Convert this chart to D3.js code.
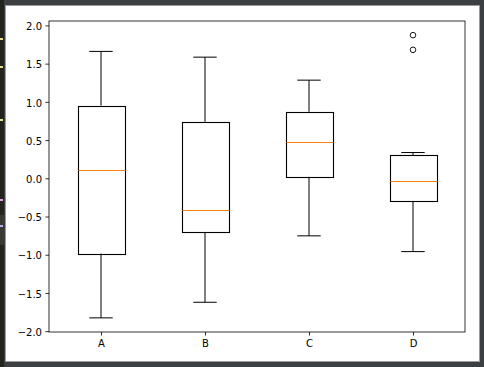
<!DOCTYPE html>
<html>
<head>
<meta charset="utf-8">
<script src="https://cdn.jsdelivr.net/npm/d3@7"></script>
<style>
  html, body { margin: 0; padding: 0; background: #3c3f41; }
  svg { display: block; }
  text { font-family: "DejaVu Sans", sans-serif; }
</style>
</head>
<body>
<svg id="chart" width="484" height="367"></svg>
<script>
// ---- data ----
const categories  = ["A", "B", "C", "D"];
const whiskerHigh = [1.660, 1.585, 1.284, 0.337];
const q3          = [0.952, 0.739, 0.870, 0.302];
const medians     = [0.102, -0.413, 0.477, -0.038];
const q1          = [-0.985, -0.706, 0.019, -0.300];
const whiskerLow  = [-1.826, -1.622, -0.753, -0.959];
const outliers    = [[], [], [], [1.873, 1.681]];
const yTicks      = [-2.0, -1.5, -1.0, -0.5, 0.0, 0.5, 1.0, 1.5, 2.0];

const svg = d3.select("#chart");

// window chrome around the figure
svg.append("rect").attr("x", 0).attr("y", 0).attr("width", 484).attr("height", 367).attr("fill", "#3c3f41");
svg.append("rect").attr("x", 0).attr("y", 0).attr("width", 4).attr("height", 367).attr("fill", "#24241f");
svg.append("rect").attr("x", 0).attr("y", 215).attr("width", 4).attr("height", 30).attr("fill", "#3a3a33");
[[38, "#e8e08a"], [66, "#e8e08a"], [119, "#e8e08a"], [199, "#e6a0e6"], [225, "#b0b0f0"]].forEach(m => {
  svg.append("rect").attr("x", 0).attr("y", m[0]).attr("width", 3).attr("height", 2).attr("fill", m[1]);
});
svg.append("rect").attr("x", 5.5).attr("y", 5.5).attr("width", 474).attr("height", 356)
  .attr("fill", "#ffffff").attr("stroke", "#9a9a9a").attr("stroke-width", 1);

// plot area
const mLeft = 49, mRight = 465, mTop = 21, mBottom = 332;
const all = [].concat(whiskerHigh, whiskerLow, ...outliers);
const lo = d3.min(all), hi = d3.max(all), pad = (hi - lo) * 0.05;

const x = d3.scalePoint().domain(categories).range([mLeft, mRight]).padding(0.5);
const y = d3.scaleLinear().domain([lo - pad, hi + pad]).range([mBottom, mTop]);
const boxW = x.step() * 0.45;
const capW = boxW / 2;

const g = svg.append("g");

// axes
const yAxis = d3.axisLeft(y).tickValues(yTicks).tickSize(3.6).tickPadding(3.4)
  .tickFormat(d => d3.format(".1f")(d).replace("-", "\u2212"));
const xAxis = d3.axisBottom(x).tickSize(3.6).tickPadding(4.4);

const ya = g.append("g").attr("transform", `translate(${mLeft},0)`).call(yAxis);
const xa = g.append("g").attr("transform", `translate(0,${mBottom})`).call(xAxis);
[ya, xa].forEach(a => {
  a.select(".domain").remove();
  a.selectAll(".tick line").attr("stroke", "#000").attr("stroke-width", 0.8);
  a.selectAll(".tick text").attr("fill", "#000").attr("font-size", "10px");
});
ya.selectAll(".tick text").attr("dy", "0.42em");

// frame
g.append("rect").attr("x", mLeft).attr("y", mTop).attr("width", mRight - mLeft).attr("height", mBottom - mTop)
  .attr("fill", "none").attr("stroke", "#000").attr("stroke-width", 0.8);

const idx = d3.range(categories.length);
const cx = i => Math.round(x(categories[i]));

// whiskers
g.selectAll(".wh-hi").data(idx).join("line")
  .attr("x1", cx).attr("x2", cx)
  .attr("y1", i => y(q3[i])).attr("y2", i => y(whiskerHigh[i]))
  .attr("stroke", "#000").attr("stroke-width", 1);
g.selectAll(".wh-lo").data(idx).join("line")
  .attr("x1", cx).attr("x2", cx)
  .attr("y1", i => y(q1[i])).attr("y2", i => y(whiskerLow[i]))
  .attr("stroke", "#000").attr("stroke-width", 1);
// caps
g.selectAll(".cap-hi").data(idx).join("line")
  .attr("x1", i => cx(i) - capW / 2).attr("x2", i => cx(i) + capW / 2)
  .attr("y1", i => y(whiskerHigh[i])).attr("y2", i => y(whiskerHigh[i]))
  .attr("stroke", "#000").attr("stroke-width", 1);
g.selectAll(".cap-lo").data(idx).join("line")
  .attr("x1", i => cx(i) - capW / 2).attr("x2", i => cx(i) + capW / 2)
  .attr("y1", i => y(whiskerLow[i])).attr("y2", i => y(whiskerLow[i]))
  .attr("stroke", "#000").attr("stroke-width", 1);
// boxes
g.selectAll(".box").data(idx).join("rect")
  .attr("x", i => Math.round(cx(i) - boxW / 2) + 0.5)
  .attr("width", Math.round(boxW))
  .attr("y", i => Math.round(y(q3[i])) + 0.5)
  .attr("height", i => Math.round(y(q1[i])) - Math.round(y(q3[i])))
  .attr("fill", "none").attr("stroke", "#000").attr("stroke-width", 1.1);
// medians
g.selectAll(".med").data(idx).join("line")
  .attr("x1", i => Math.round(cx(i) - boxW / 2) + 0.5)
  .attr("x2", i => Math.round(cx(i) - boxW / 2) + 0.5 + Math.round(boxW))
  .attr("y1", i => Math.round(y(medians[i])) + 0.5).attr("y2", i => Math.round(y(medians[i])) + 0.5)
  .attr("stroke", "#ff7f0e").attr("stroke-width", 1.1);
// outliers
const fl = [];
outliers.forEach((arr, i) => arr.forEach(v => fl.push({ i, v })));
g.selectAll(".flier").data(fl).join("circle")
  .attr("cx", d => cx(d.i)).attr("cy", d => y(d.v)).attr("r", 2.8)
  .attr("fill", "none").attr("stroke", "#000").attr("stroke-width", 0.9);
</script>
</body>
</html>
